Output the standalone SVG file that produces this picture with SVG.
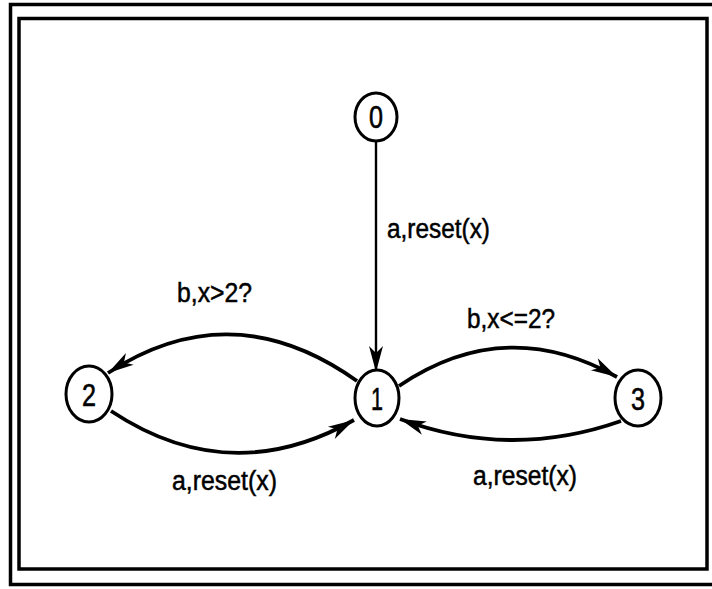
<svg xmlns="http://www.w3.org/2000/svg" width="712" height="589" viewBox="0 0 712 589">
<style>
.frame{fill:none;stroke:#000;stroke-width:3.5}
.node ellipse{fill:#fff;stroke:#000;stroke-width:3}
.node text{font-family:"Liberation Sans",Arial,sans-serif;font-size:31px;text-anchor:middle;fill:#000;stroke:#000;stroke-width:0.6}
.edge{fill:none;stroke:#000;stroke-width:3.8}
.thin{stroke-width:2.4}
.lbl{font-family:"Liberation Sans",Arial,sans-serif;font-size:27px;fill:#000;stroke:#000;stroke-width:0.5}
</style>
<defs>
<marker id="ah" viewBox="-27 -8 29 16" refX="0" refY="0" markerWidth="29" markerHeight="16" markerUnits="userSpaceOnUse" orient="auto">
<path d="M0,0 L-26,-7 L-19,0 L-26,7 Z" fill="#000"/>
</marker>
</defs>
<rect width="712" height="589" fill="#fff"/>
<rect class="frame" x="10.5" y="4.5" width="720" height="580"/>
<rect class="frame" x="19" y="18.5" width="688" height="550.5"/>
<g id="connectors">
<path class="edge thin" d="M376,141 L376,372" marker-end="url(#ah)"/>
<path class="edge" d="M357,381 Q232,292 108,373" marker-end="url(#ah)"/>
<path class="edge" d="M111,411 Q230,490 354,420" marker-end="url(#ah)"/>
<path class="edge" d="M399,386 Q505,314 617,377" marker-end="url(#ah)"/>
<path class="edge" d="M621,421 Q510,460 400,419" marker-end="url(#ah)"/>
</g>
<g id="labels">
<text class="lbl" x="387" y="238" textLength="103" lengthAdjust="spacingAndGlyphs">a,reset(x)</text>
<text class="lbl" x="177" y="302" textLength="75" lengthAdjust="spacingAndGlyphs">b,x&gt;2?</text>
<text class="lbl" x="467" y="328" textLength="88" lengthAdjust="spacingAndGlyphs">b,x&lt;=2?</text>
<text class="lbl" x="172" y="490" textLength="105" lengthAdjust="spacingAndGlyphs">a,reset(x)</text>
<text class="lbl" x="473" y="485" textLength="104" lengthAdjust="spacingAndGlyphs">a,reset(x)</text>
</g>
<g id="node0" class="node"><ellipse cx="376" cy="117" rx="21" ry="24"/><text x="376" y="128" textLength="14" lengthAdjust="spacingAndGlyphs">0</text></g>
<g id="node1" class="node"><ellipse cx="377" cy="398" rx="22" ry="28"/><text x="377" y="410" textLength="12" lengthAdjust="spacingAndGlyphs">1</text></g>
<g id="node2" class="node"><ellipse cx="89" cy="394" rx="23" ry="28"/><text x="89" y="406" textLength="14" lengthAdjust="spacingAndGlyphs">2</text></g>
<g id="node3" class="node"><ellipse cx="638" cy="398" rx="23" ry="28"/><text x="638" y="410" textLength="14" lengthAdjust="spacingAndGlyphs">3</text></g>
</svg>
